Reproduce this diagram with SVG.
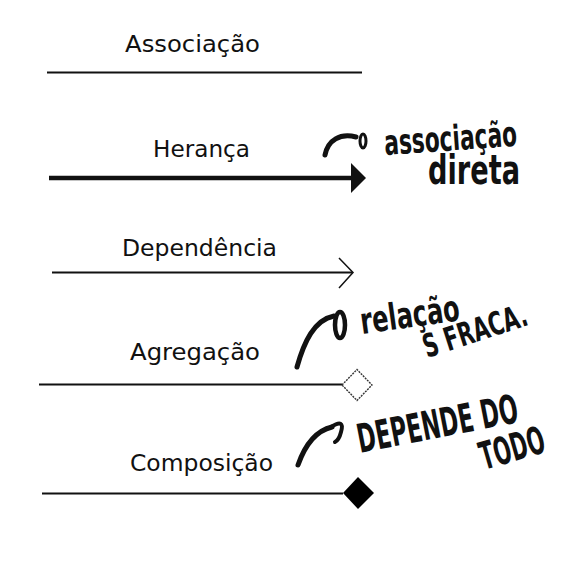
<svg xmlns="http://www.w3.org/2000/svg" width="564" height="577" viewBox="0 0 564 577">
<style>
.lbl{font-family:"DejaVu Sans","Liberation Sans",sans-serif;font-size:23px;fill:#111}
.hand{font-family:"DejaVu Sans Condensed","Liberation Sans Narrow","Liberation Sans",sans-serif;font-weight:bold;fill:#111}
.ln{stroke:#111;stroke-width:2;fill:none}
.pen{stroke:#111;stroke-width:5;fill:none;stroke-linecap:round;stroke-linejoin:round}
</style>
<rect width="564" height="577" fill="#fff"/>
<g id="connectors">
<line class="ln" x1="47" y1="72.5" x2="362" y2="72.5"/>
<line class="ln" x1="49" y1="178" x2="354" y2="178" style="stroke-width:4.5"/>
<polygon points="351,163 366,178 351,193" fill="#111"/>
<line class="ln" x1="52" y1="272.5" x2="352" y2="272.5"/>
<polyline class="ln" points="339,258 353,272.5 339,288" style="stroke-width:1.5"/>
<line class="ln" x1="39" y1="384.5" x2="342" y2="384.5"/>
<polygon points="342,385 357,369.5 372,385 357,400.5" fill="#fff" stroke="#333" stroke-width="1.4" stroke-dasharray="2 1"/>
<line class="ln" x1="42" y1="493.5" x2="343" y2="493.5"/>
<polygon points="343,493 358,477 374,493 358,509" fill="#000"/>
</g>
<g id="associacao"><text class="lbl" x="125" y="52" textLength="135" lengthAdjust="spacingAndGlyphs">Associação</text></g>
<g id="heranca"><text class="lbl" x="153" y="157" textLength="97" lengthAdjust="spacingAndGlyphs">Herança</text></g>
<g id="dependencia"><text class="lbl" x="122" y="256" textLength="155" lengthAdjust="spacingAndGlyphs">Dependência</text></g>
<g id="agregacao"><text class="lbl" x="130" y="360" textLength="130" lengthAdjust="spacingAndGlyphs">Agregação</text></g>
<g id="composicao"><text class="lbl" x="130" y="471" textLength="143" lengthAdjust="spacingAndGlyphs">Composição</text></g>
<g id="nota-heranca">
<path class="pen" d="M325,155 C328,140 340,133 356,137"/>
<ellipse cx="363" cy="141" rx="3" ry="7" fill="none" stroke="#111" stroke-width="3"/>
<text class="hand" font-size="24" textLength="133" lengthAdjust="spacingAndGlyphs" transform="translate(385 155) rotate(-4) scale(1 1.45)">associação</text>
<text class="hand" font-size="30" textLength="92" lengthAdjust="spacingAndGlyphs" transform="translate(428 184) scale(1 1.35)">direta</text>
</g>
<g id="nota-agregacao">
<path class="pen" d="M297,367 C304,342 314,320 334,316"/>
<ellipse cx="340" cy="325" rx="5" ry="13" fill="none" stroke="#111" stroke-width="4.5"/>
<text class="hand" font-size="27" textLength="100" lengthAdjust="spacingAndGlyphs" transform="translate(362 334) rotate(-8) scale(1 1.35)">relação</text>
<text class="hand" font-size="23" textLength="108" lengthAdjust="spacingAndGlyphs" transform="translate(427 358) rotate(-18) scale(1 1.4)">S FRACA.</text>
</g>
<g id="nota-composicao">
<path class="pen" d="M298,465 C305,445 315,431 332,427"/>
<path class="pen" d="M331,427 Q345,418 341,432 Q339,440 335,442" style="stroke-width:4"/>
<text class="hand" font-size="25" textLength="163" lengthAdjust="spacingAndGlyphs" transform="translate(360 453) rotate(-11) scale(1 1.6)">DEPENDE DO</text>
<text class="hand" font-size="24" textLength="66" lengthAdjust="spacingAndGlyphs" transform="translate(484 470) rotate(-16) scale(1 1.6)">TODO</text>
</g>
</svg>
